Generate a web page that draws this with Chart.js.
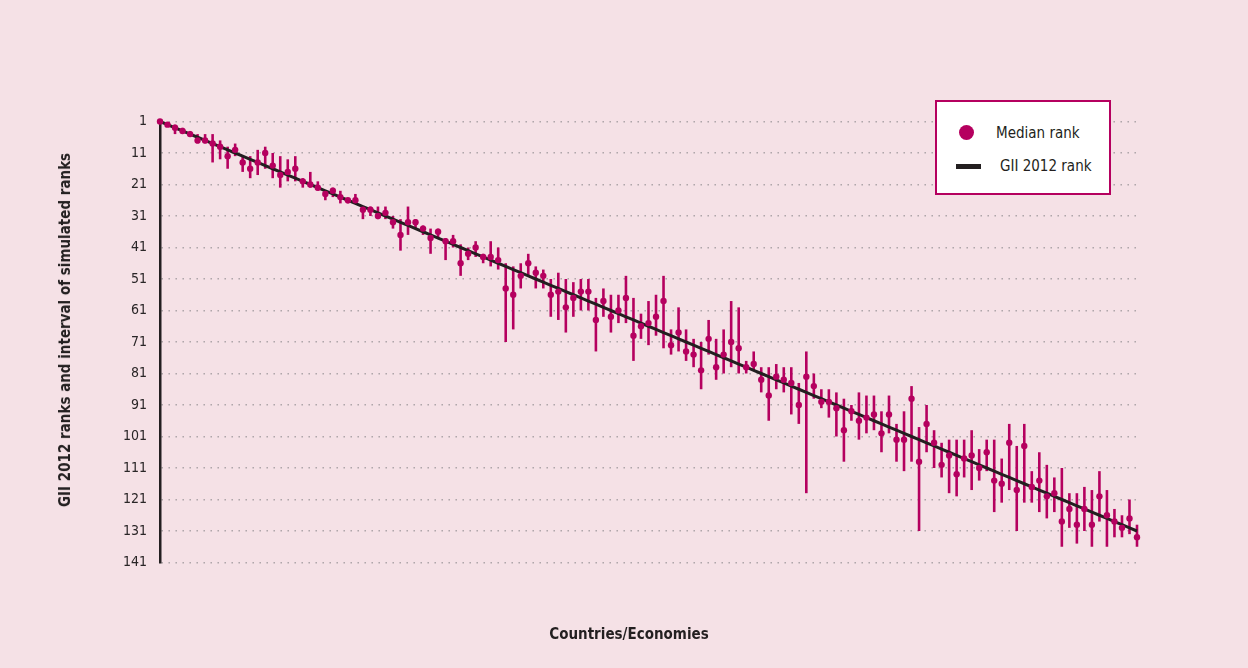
<!DOCTYPE html>
<html>
<head>
<meta charset="utf-8">
<script src="https://cdn.jsdelivr.net/npm/chart.js@4.4.1/dist/chart.umd.min.js"></script>
<style>
  html, body { margin: 0; padding: 0; background: #f5e1e6; }
  #wrap { position: relative; width: 1248px; height: 668px; background: #f5e1e6; overflow: hidden; }
  #c { position: absolute; left: 0; top: 0; }
  .lbl { position: absolute; font-family: 'Liberation Sans Narrow', 'DejaVu Sans Condensed', 'Roboto', sans-serif; color: #231f20; font-weight: bold; font-size: 15px; white-space: nowrap; }
  #ytitle { left: 65px; top: 330px; transform: translate(-50%, -50%) rotate(-90deg); }
  #xtitle { left: 629px; top: 634px; transform: translate(-50%, -50%); }
  #legend { position: absolute; left: 935px; top: 100px; width: 172px; height: 91px; background: #ffffff; border: 2px solid #b5005f; }
  #legend .dot { position: absolute; left: 22px; top: 23px; width: 15px; height: 15px; border-radius: 50%; background: #b5005f; }
  #legend .bar { position: absolute; left: 19px; top: 62px; width: 25px; height: 5px; background: #231f20; }
  #legend .t { position: absolute; font-family: 'Liberation Sans Narrow', 'DejaVu Sans Condensed', 'Roboto', sans-serif; font-size: 15px; color: #231f20; transform: translateY(-50%); white-space: nowrap; }
</style>
</head>
<body>
<div id="wrap">
  <canvas id="c" width="1248" height="668"></canvas>
  <div class="lbl" id="ytitle">GII 2012 ranks and interval of simulated ranks</div>
  <div class="lbl" id="xtitle">Countries/Economies</div>
  <div id="legend">
    <div class="dot"></div><div class="t" style="left:59px;top:31px;">Median rank</div>
    <div class="bar"></div><div class="t" style="left:63px;top:64px;">GII 2012 rank</div>
  </div>
</div>
<script>
// GII 2012 rank of each economy (x position and reference line)
const giiRank = [1,2,3,4,5,6,7,8,9,10,11,12,13,14,15,16,17,18,19,20,21,22,23,24,25,26,27,28,29,30,
  31,32,33,34,35,36,37,38,39,40,41,42,43,44,45,46,47,48,49,50,51,52,53,54,55,56,57,58,59,60,
  61,62,63,64,65,66,67,68,69,70,71,72,73,74,75,76,77,78,79,80,81,82,83,84,85,86,87,88,89,90,
  91,92,93,94,95,96,97,98,99,100,101,102,103,104,105,106,107,108,109,110,111,112,113,114,115,116,117,118,119,120,
  121,122,123,124,125,126,127,128,129,130,131];

// Median rank of simulations
const medianRank = [1,2,3,4,5,7,7,8,9,12,10,14,16,14,11,15,18,17,16,20,21,22,24,23,25,26,26,29,29,31,
  30,33,37,33,33,35,38,36,39,39,46,43,41,44,44,45,54,56,50,46,49,50,56,55,60,57,55,55,64,58,
  63,61,57,69,66,65,63,58,72,68,74,75,80,70,79,75,71,73,79,78,83,88,82,83,84,91,82,85,90,90,
  92,99,93,96,95,94,100,94,102,102,89,109,97,103,110,107,113,108,107,111,106,115,116,103,118,104,117,115,120,119,
  128,124,129,124,129,120,126,128,130,127,133];

// Interval of simulated ranks: best (low) and worst (high)
const lowRank = [1,1.5,2,3,4,5,5,5,7,9,8,12,12,10,9,11,12,13,12,19,17,20,23,22,23,25.5,24,28,28,28,
  28,31,32,28,32,34,35,35,38,37,40,41,39,43,39,41,46,47,46,43,47,48,51,49,51,52,51,51,57,54,
  56,56,50,57,62,58,56,50,67,60,67,70,71,64,70,67,58,60,77,74,79,79,78,79,79,84,74,81,86,86,
  87,89,91,87,88,88,93,88,97,93,85,98,91,99,103,102,102,102,99,105,102,102,108,97,104,97,112,106,110,114,
  111,119,119,117,118,112,118,124,126,121,129];
const highRank = [1,2.5,5,4.5,5.6,8,8,14,13,16,12,17,19,18,16,19,22,20,20,22,22,23,26,25,27,27,27,32,31,32,
  32,35,42,37,35,37,43,38,45,41,50,45,44,46,47,48,71,67,54,50,54,54,63,64,68,63,61,61,74,63,
  68,65,65,77,70,72,69,73,75,74,77,79,86,75,83,81,79,81,81,80,87,96,86,87,94,97,119,89,92,95,
  101,109,96,102,100,99,106,100,109,112,109,131,106,111,114,119,120,114,118,115,112,125,122,118,131,122,122,125,127,125,
  136,130,135,131,136,128,136,133,133,132,136];

// Y axis tick labels
const yTickValues = [1,11,21,31,41,51,61,71,81,91,101,111,121,131,141];

const MAGENTA = '#b5005f';
const DARK = '#231f20';
const FONT = "'Liberation Sans Narrow', 'DejaVu Sans Condensed', 'Roboto', sans-serif";

const intervalBars = {
  id: 'intervalBars',
  beforeDatasetsDraw(chart) {
    const {ctx, scales: {x, y}} = chart;
    ctx.save();
    ctx.strokeStyle = MAGENTA;
    ctx.lineWidth = 2.6;
    for (let i = 0; i < giiRank.length; i++) {
      const px = x.getPixelForValue(giiRank[i]);
      ctx.beginPath();
      ctx.moveTo(px, y.getPixelForValue(lowRank[i]));
      ctx.lineTo(px, y.getPixelForValue(highRank[i]));
      ctx.stroke();
    }
    ctx.restore();
  }
};

new Chart(document.getElementById('c'), {
  type: 'scatter',
  data: {
    datasets: [
      {
        label: 'Median rank',
        data: giiRank.map((g, i) => ({x: g, y: medianRank[i]})),
        pointRadius: 3.2,
        pointBackgroundColor: MAGENTA,
        pointBorderWidth: 0,
        showLine: false,
        clip: false
      },
      {
        label: 'GII 2012 rank',
        data: giiRank.map(g => ({x: g, y: g})),
        showLine: true,
        borderColor: DARK,
        borderWidth: 3,
        pointRadius: 0,
        clip: false
      }
    ]
  },
  options: {
    responsive: false,
    animation: false,
    events: [],
    layout: { padding: { left: 57, right: 111, top: 121.5, bottom: 105.5 } },
    plugins: { legend: { display: false }, tooltip: { enabled: false } },
    scales: {
      x: { type: 'linear', min: 1, max: 131, display: false },
      y: {
        type: 'linear',
        reverse: true,
        min: 1,
        max: 141,
        afterFit(s) { s.width = 103; },
        afterBuildTicks(s) { s.ticks = yTickValues.map(v => ({value: v})); },
        ticks: {
          padding: 13,
          color: '#2a2627',
          font: { family: FONT, size: 14 },
          autoSkip: false
        },
        grid: {
          drawTicks: false,
          color: '#a8a0a3',
          lineWidth: 1.4
        },
        border: { display: true, color: DARK, width: 2.5, dash: [1.4, 5.6] }
      }
    }
  },
  plugins: [intervalBars]
});
</script>
</body>
</html>
